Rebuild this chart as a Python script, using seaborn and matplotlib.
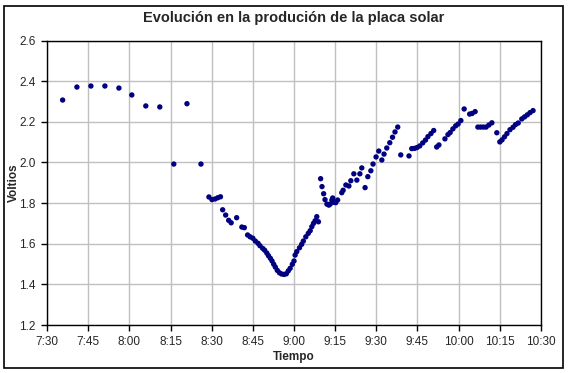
import matplotlib
matplotlib.use("Agg")
import matplotlib.pyplot as plt
import seaborn as sns
import pandas as pd
from matplotlib.patches import Rectangle

minutos = [
    5.7, 10.9, 16.0, 21.1, 26.2, 30.9, 36.0, 41.1, 46.2, 51.0, 56.1,
    59.0, 60.1, 61.2, 62.2, 63.2, 64.0, 65.1, 66.2, 67.1, 69.1, 71.0, 71.9,
    73.1, 74.0, 75.0, 75.9, 76.9, 77.6, 78.6, 79.3, 80.1, 80.7, 81.4, 82.0,
    82.6, 83.2, 83.9, 84.7, 85.5, 86.4, 87.2, 87.9, 88.6, 89.4, 90.0, 90.4,
    91.0, 92.0, 92.8, 93.4, 94.3, 95.2, 95.9, 96.5, 97.1, 97.7, 98.3, 98.9,
    99.7, 100.2, 100.8, 101.3, 102.0, 102.7, 103.2, 103.8, 104.1, 104.5,
    105.2, 105.9, 107.4, 107.9, 108.9, 110.0, 110.7, 111.8, 112.9, 114.0,
    114.7, 115.9, 116.9, 118.0, 118.8, 119.9, 120.9, 122.0, 122.8, 123.8,
    124.9, 125.9, 126.8, 127.8, 128.9, 131.9, 132.9, 133.9, 134.8, 135.8,
    136.9, 137.9, 138.8, 139.9, 140.9, 142.0, 142.8, 145.0, 146.1, 146.9,
    147.9, 148.9, 149.8, 150.8, 152.0, 154.0, 154.9, 156.0, 157.0, 158.0,
    159.0, 160.0, 161.0, 162.1, 163.9, 165.0, 165.8, 166.7, 167.6, 168.7,
    169.8, 170.7, 171.7, 173.0, 174.0, 175.0, 176.0, 177.1,
]
voltios = [
    2.307, 2.371, 2.376, 2.376, 2.366, 2.332, 2.278, 2.273, 1.992, 2.289, 1.992,
    1.830, 1.817, 1.820, 1.826, 1.831, 1.767, 1.741, 1.715, 1.703, 1.728, 1.682, 1.679,
    1.643, 1.634, 1.627, 1.613, 1.602, 1.590, 1.577, 1.568, 1.554, 1.541, 1.528, 1.515,
    1.499, 1.485, 1.469, 1.457, 1.451, 1.449, 1.452, 1.466, 1.479, 1.499, 1.515, 1.544,
    1.561, 1.580, 1.597, 1.613, 1.634, 1.651, 1.664, 1.684, 1.700, 1.713, 1.733, 1.708,
    1.920, 1.881, 1.846, 1.817, 1.795, 1.790, 1.795, 1.815, 1.825, 1.804,
    1.802, 1.815, 1.851, 1.863, 1.889, 1.884, 1.910, 1.944, 1.913, 1.944,
    1.973, 1.876, 1.930, 1.959, 1.992, 2.027, 2.056, 2.012, 2.041, 2.071,
    2.097, 2.124, 2.150, 2.174, 2.037, 2.032, 2.068, 2.069, 2.073, 2.081,
    2.096, 2.110, 2.127, 2.142, 2.157, 2.076, 2.086, 2.116, 2.137, 2.147,
    2.165, 2.180, 2.189, 2.206, 2.263, 2.238, 2.241, 2.250, 2.174, 2.174,
    2.174, 2.174, 2.184, 2.195, 2.146, 2.101, 2.111, 2.126, 2.142, 2.161,
    2.173, 2.186, 2.194, 2.214, 2.224, 2.234, 2.245, 2.255,
]

etiquetas_x = ["7:30", "7:45", "8:00", "8:15", "8:30", "8:45", "9:00",
               "9:15", "9:30", "9:45", "10:00", "10:15", "10:30"]
ticks_x = [15 * i for i in range(len(etiquetas_x))]
ticks_y = [1.2, 1.4, 1.6, 1.8, 2.0, 2.2, 2.4, 2.6]

df = pd.DataFrame({"Tiempo": minutos, "Voltios": voltios})

sns.set_style("white")
plt.rcParams["font.family"] = ["Liberation Sans", "DejaVu Sans"]

fig = plt.figure(figsize=(5.68, 3.73), dpi=100)
ax = fig.add_axes([47 / 568, 1 - 325 / 373, (541 - 47) / 568, (325 - 40.5) / 373])

# Puntos de la serie
sns.scatterplot(data=df, x="Tiempo", y="Voltios", ax=ax, marker="o",
                s=15, color="#000080", edgecolor="none", linewidth=0, zorder=3)

ax.set_xlim(0, 180)
ax.set_ylim(1.2, 2.6)
ax.set_xticks(ticks_x)
ax.set_xticklabels(etiquetas_x, fontsize=8.5)
ax.set_yticks(ticks_y)
ax.set_yticklabels([f"{v:.1f}" for v in ticks_y], fontsize=8.5)

# Rejilla gris como en Excel
ax.grid(True, color="#c0c0c0", linewidth=1)
ax.set_axisbelow(True)

for side in ["top", "right", "left", "bottom"]:
    ax.spines[side].set_visible(True)
    ax.spines[side].set_color("black")
    ax.spines[side].set_linewidth(1)

ax.tick_params(axis="both", which="both", direction="out", length=4,
               width=1, color="black", left=True, bottom=True, pad=4)

ax.set_xlabel("Tiempo", fontsize=8.5, fontweight="bold", labelpad=2)
ax.set_ylabel("Voltios", fontsize=8.5, fontweight="bold")
ax.yaxis.set_label_coords((20 - 47) / 494, 0.5)
ax.set_title("Evolución en la produción de la placa solar", fontsize=10.5,
             fontweight="bold", pad=13)

# Marco exterior del grafico
fig.patches.append(Rectangle((4 / 568, 5 / 373), 559 / 568, 362 / 373,
                             transform=fig.transFigure, fill=False,
                             edgecolor="black", linewidth=1.2))

fig.savefig("out.png", dpi=100)
plt.close(fig)
